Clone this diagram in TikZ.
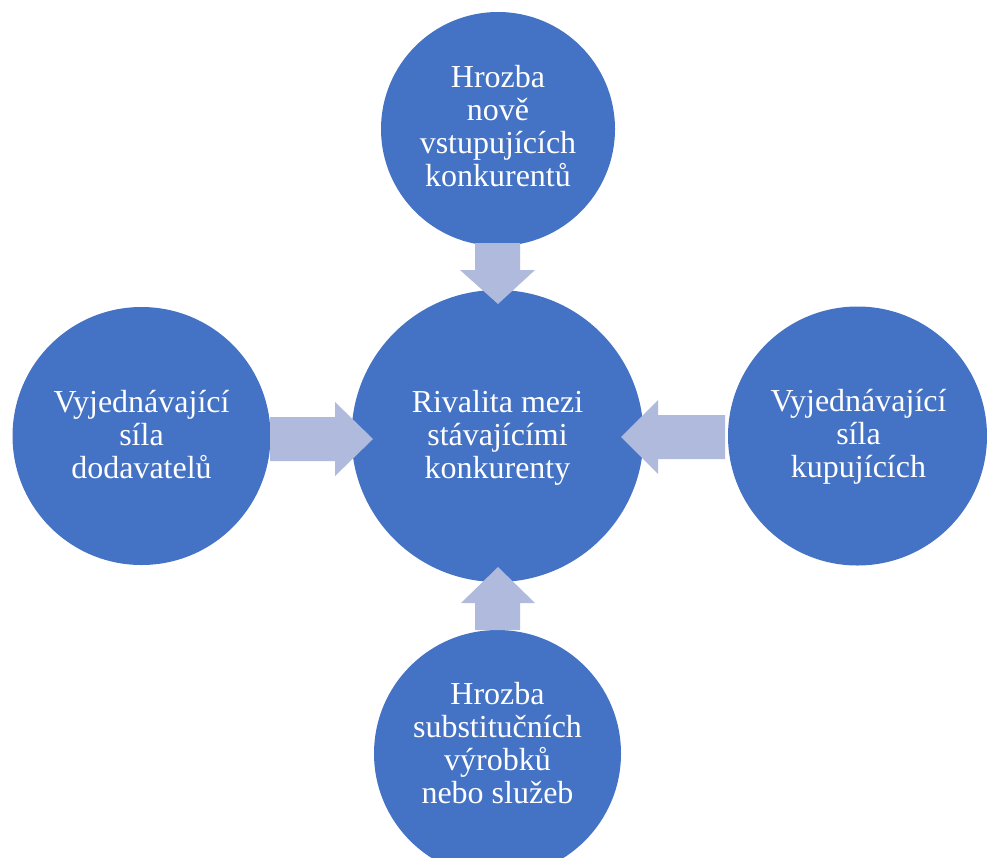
\documentclass[tikz,border=0pt]{standalone}
\usepackage{fontspec}
\setmainfont{Liberation Serif}
\definecolor{circblue}{RGB}{68,114,196}
\definecolor{arrowblue}{RGB}{175,186,220}
\begin{document}
\begin{tikzpicture}[x=1pt,y=-1pt,
  force/.style={circle,fill=circblue,draw=none,inner sep=0pt},
  lbl/.style={text=white,align=center,inner sep=0pt,font=\fontsize{32}{33}\selectfont},
  blockarrow/.style={fill=arrowblue,draw=none}]
\useasboundingbox (0,0) rectangle (987,857);
\clip (0,0) rectangle (987,857);
% circles
\node[force,minimum size=234pt] (top) at (498,129) {};
\node[force,minimum size=292pt] (mid) at (497.5,436) {};
\node[force,minimum size=258pt] (left) at (141.5,436) {};
\node[force,minimum size=259pt] (right) at (857.5,436) {};
\node[force,minimum size=247pt] (bottom) at (497.5,753.5) {};
% labels
\node[lbl] (toptxt) at (498,126) {Hrozba\\nově\\vstupujících\\konkurentů};
\node[lbl] (midtxt) at (497.5,438) {Rivalita mezi\\stávajícími\\konkurenty};
\node[lbl] (lefttxt) at (141.5,434.5) {Vyjednávající\\síla\\dodavatelů};
\node[lbl] (righttxt) at (858.5,436.4) {Vyjednávající\\síla\\kupujících};
\node[lbl] (bottomtxt) at (497.5,743.5) {Hrozba\\substitučních\\výrobků\\nebo služeb};
% block arrows
\fill[blockarrow] (475,243) -- (520,243) -- (520,270) -- (535,270) -- (498,304) -- (460,270) -- (475,270) -- cycle;
\fill[blockarrow] (270,417) -- (335,417) -- (335,402) -- (373,439) -- (335,476) -- (335,461) -- (270,461) -- cycle;
\fill[blockarrow] (725,415) -- (658,415) -- (658,400) -- (621,437) -- (658,474) -- (658,459) -- (725,459) -- cycle;
\fill[blockarrow] (475,630) -- (475,603) -- (461,603) -- (498,567) -- (535,603) -- (520,603) -- (520,630) -- cycle;
\end{tikzpicture}
\end{document}
